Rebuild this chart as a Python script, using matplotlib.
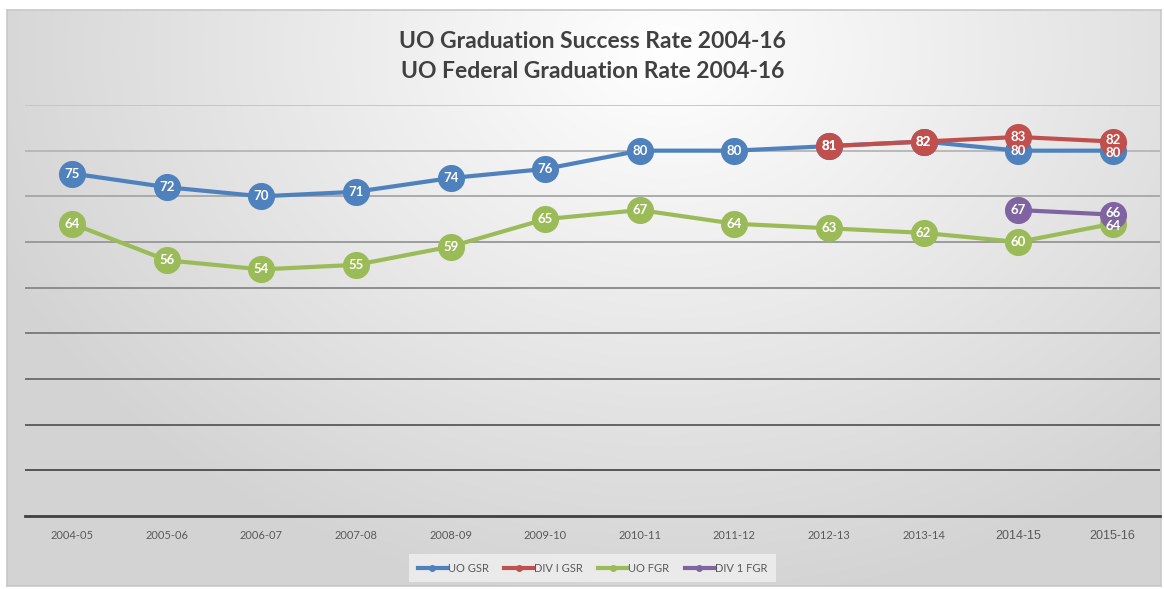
import matplotlib.pyplot as plt
import numpy as np
from matplotlib.lines import Line2D

plt.rcParams['font.family'] = ['Lato', 'DejaVu Sans']

years = ['2004-05', '2005-06', '2006-07', '2007-08', '2008-09', '2009-10',
         '2010-11', '2011-12', '2012-13', '2013-14', '2014-15', '2015-16']
uo_gsr = [75, 72, 70, 71, 74, 76, 80, 80, 81, 82, 80, 80]
div1_gsr = [None, None, None, None, None, None, None, None, 81, 82, 83, 82]
uo_fgr = [64, 56, 54, 55, 59, 65, 67, 64, 63, 62, 60, 64]
div1_fgr = [None, None, None, None, None, None, None, None, None, None, 67, 66]

names = ['UO GSR', 'DIV I GSR', 'UO FGR', 'DIV 1 FGR']
colors = ['#4f81bd', '#c0504d', '#9bbb59', '#8064a2']
series = [uo_gsr, div1_gsr, uo_fgr, div1_fgr]

fig = plt.figure(figsize=(11.64, 5.89), dpi=100)

# gradient background panel
W, H = 1154, 576
bg = fig.add_axes([7 / 1164, 1 - 586 / 589, W / 1164, H / 589], zorder=0)
yy, xx = np.mgrid[0:H, 0:W]
r = np.hypot(xx - 660, (yy - 40) * 1.3) / 720
shade = 1 - 0.17 * np.clip(r, 0, 1)
bg.imshow(np.dstack([shade] * 3), aspect='auto', extent=(0, 1, 0, 1))
bg.set_xticks([])
bg.set_yticks([])
for s in bg.spines.values():
    s.set_color('#c8c8c8')
    s.set_linewidth(1.2)

ax = fig.add_axes([25 / 1164, 1 - 516 / 589, 1135 / 1164, 411 / 589], zorder=1)
ax.patch.set_alpha(0)
x = np.arange(len(years))

# gridlines get darker towards the bottom
for g in range(10, 91, 10):
    t = (g - 10) / 80
    v = 0.29 + t * (0.77 - 0.29)
    ax.axhline(g, color=(v, v, v), lw=1.3, zorder=1)

for vals, c, name in zip(series, colors, names):
    xs = [i for i, v in enumerate(vals) if v is not None]
    ys = [v for v in vals if v is not None]
    ax.plot(xs, ys, color=c, lw=3, marker='o', ms=18.5, mec=c, mfc=c,
            solid_capstyle='round', zorder=3, label=name)

# data labels; nudge apart labels sitting very close to another series
for si, vals in enumerate(series):
    for i, v in enumerate(vals):
        if v is None:
            continue
        dy = 0
        for sj, other in enumerate(series):
            if sj != si and other[i] is not None and 0 < abs(other[i] - v) <= 2:
                dy = 2 if v > other[i] else -2
        ax.annotate(str(v), (i, v), xytext=(0, dy), textcoords='offset pixels',
                    ha='center', va='center', color='white',
                    fontsize=9.5, fontweight='bold', zorder=5)

ax.set_xlim(-0.5, 11.5)
ax.set_ylim(0, 90)
ax.set_yticks([])
ax.tick_params(axis='x', length=0, pad=10, labelsize=8, labelcolor='#595959')
ax.set_xticks(x)
ax.set_xticklabels(years)
for lbl in ax.get_xticklabels()[-2:]:
    lbl.set_family(['Liberation Sans', 'DejaVu Sans'])
    lbl.set_fontsize(9)
for side in ['top', 'right', 'left']:
    ax.spines[side].set_visible(False)
ax.spines['bottom'].set_color('#404040')
ax.spines['bottom'].set_linewidth(2)

fig.text(0.509, 1 - 42 / 589, 'UO Graduation Success Rate 2004-16', ha='center',
         va='center', fontsize=16.5, fontweight='bold', color='#404040')
fig.text(0.509, 1 - 72 / 589, 'UO Federal Graduation Rate 2004-16', ha='center',
         va='center', fontsize=16.5, fontweight='bold', color='#404040')

handles = [Line2D([0], [0], color=c, lw=3, marker='o', ms=4) for c in colors]
leg = fig.legend(handles, names, loc='center', bbox_to_anchor=(0.509, 1 - 568 / 589),
                 ncol=4, frameon=True, fontsize=8, handlelength=2.6, handletextpad=0.1,
                 columnspacing=1.4, borderpad=0.5, labelcolor='#595959')
leg.get_frame().set_facecolor('#f0f0f0')
leg.get_frame().set_edgecolor('none')
leg.get_frame().set_boxstyle('square')

fig.savefig('out.png', dpi=100)
